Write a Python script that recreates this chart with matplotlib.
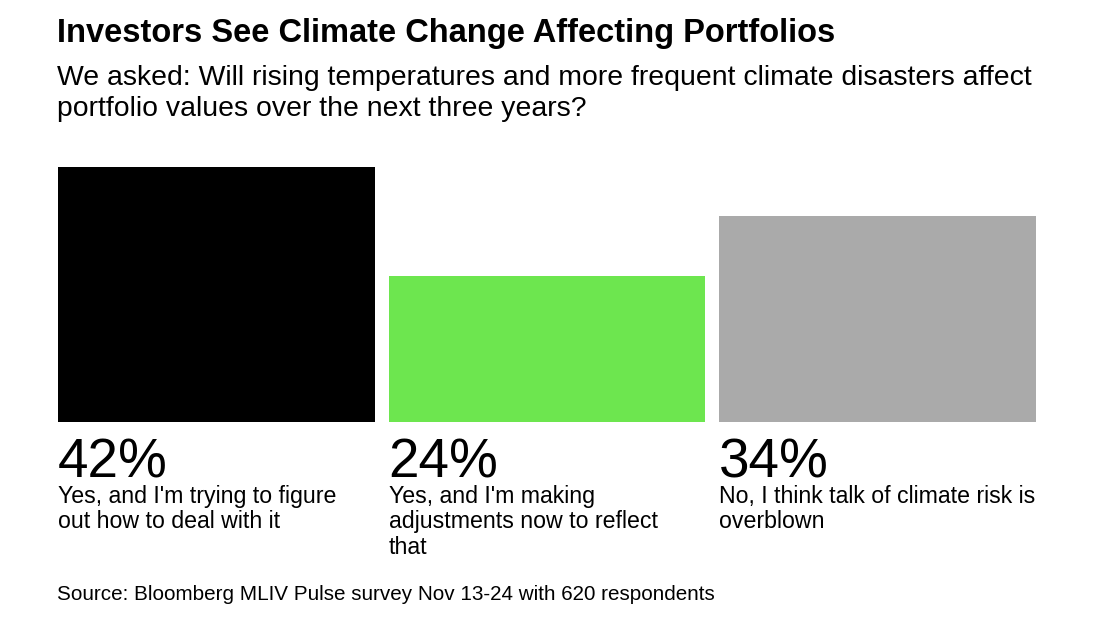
import matplotlib.pyplot as plt

plt.rcParams['font.family'] = ['Liberation Sans', 'DejaVu Sans']

# Survey answers
shares = [42, 24, 34]
pct_labels = ['42%', '24%', '34%']
answers = ["Yes, and I'm trying to figure\nout how to deal with it",
           "Yes, and I'm making\nadjustments now to reflect\nthat",
           "No, I think talk of climate risk is\noverblown"]
colors = ['#000000', '#6de64f', '#aaaaaa']

W, H = 1102, 620
fig = plt.figure(figsize=(W / 100, H / 100), dpi=100)

# Axes placed so the bars land where the reference has them
ax = fig.add_axes([58 / W, (H - 422) / H, (1036 - 58) / W, 255 / H])
width = 316 / 330
ax.bar(range(3), shares, width=width, color=colors)
ax.set_xlim(-width / 2, 2 + width / 2)
ax.set_ylim(0, 42)
ax.axis('off')

for i in range(3):
    left = i - width / 2
    ax.annotate(pct_labels[i], xy=(left, 0), xytext=(0, -56 * 0.72),
                textcoords='offset points', fontsize=39.5, va='baseline',
                ha='left', color='#000000')
    ax.annotate(answers[i], xy=(left, 0), xytext=(0, -63 * 0.72),
                textcoords='offset points', fontsize=16.7, va='top',
                ha='left', linespacing=1.13, color='#000000')

fig.text(57 / W, 1 - 42 / H, 'Investors See Climate Change Affecting Portfolios',
         fontsize=23.5, fontweight='bold', va='baseline', ha='left')
fig.text(57 / W, 1 - 85 / H,
         'We asked: Will rising temperatures and more frequent climate disasters affect',
         fontsize=20.4, va='baseline', ha='left')
fig.text(57 / W, 1 - 116 / H, 'portfolio values over the next three years?',
         fontsize=20.4, va='baseline', ha='left')
fig.text(57 / W, 1 - 600 / H,
         'Source: Bloomberg MLIV Pulse survey Nov 13-24 with 620 respondents',
         fontsize=14.9, va='baseline', ha='left')

fig.savefig('out.png', dpi=100)
